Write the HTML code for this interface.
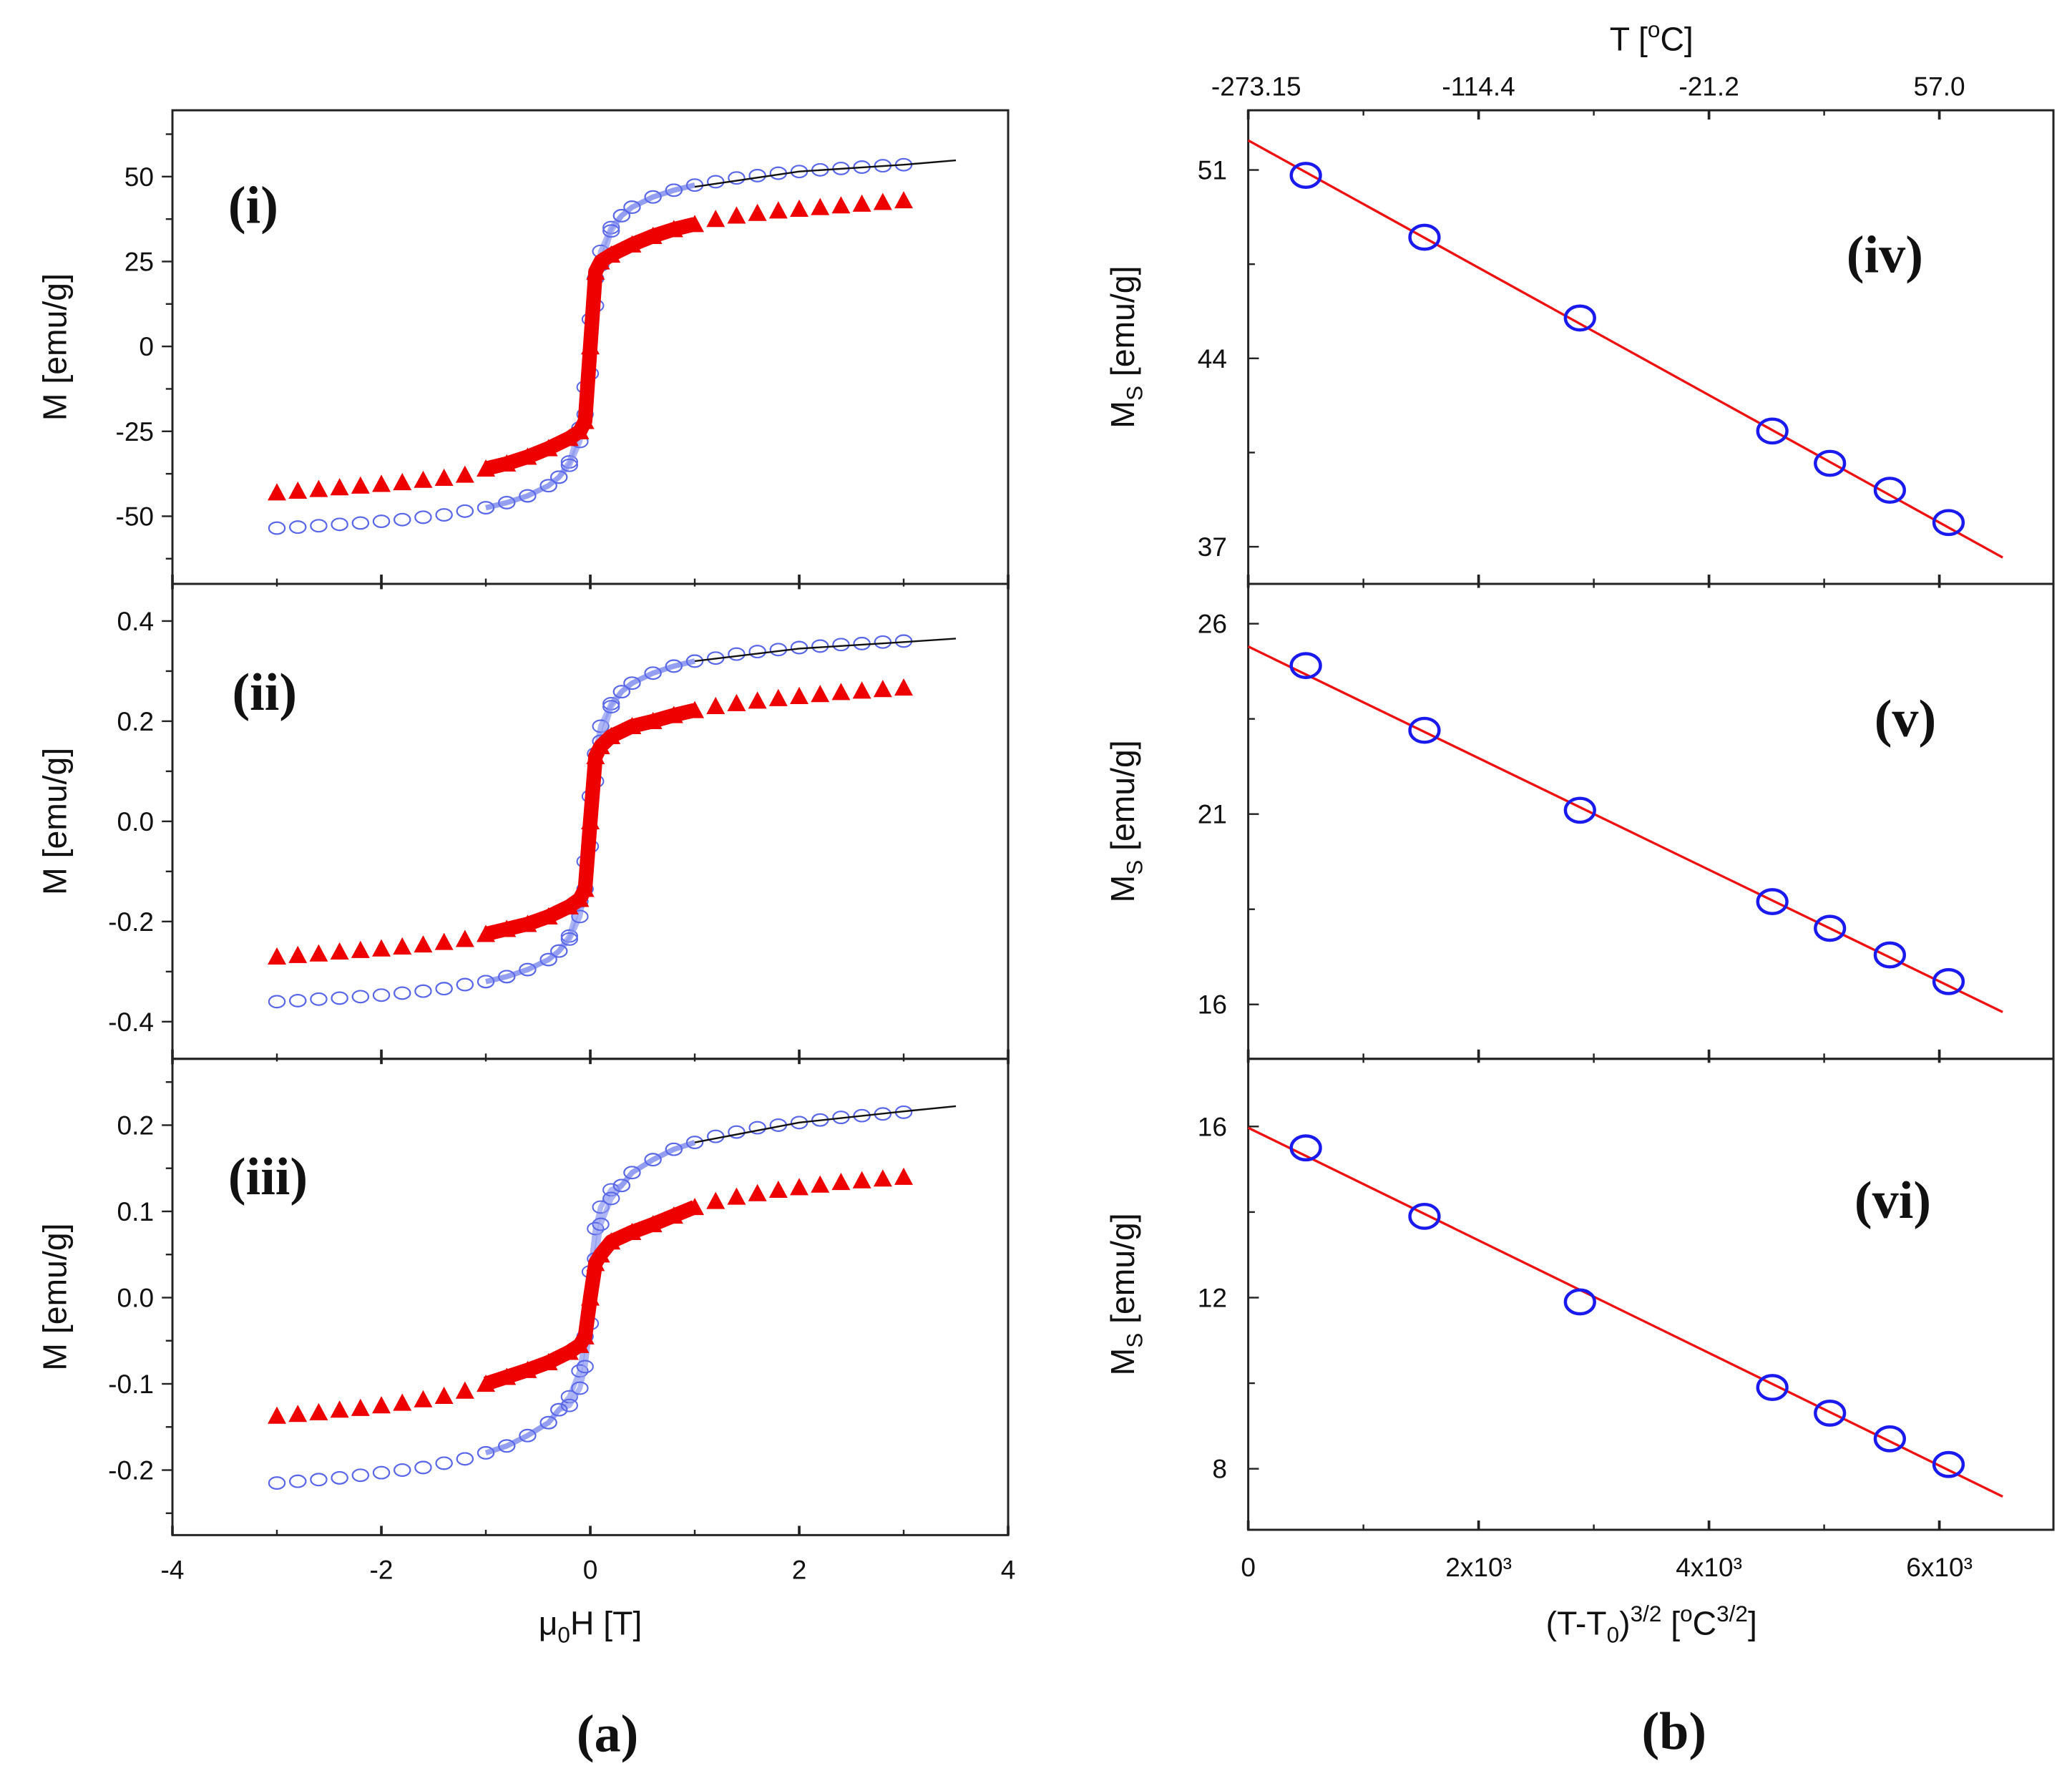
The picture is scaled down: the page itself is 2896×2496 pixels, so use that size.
<!DOCTYPE html>
<html><head><meta charset="utf-8"><style>
html,body{margin:0;padding:0;background:#fff}
svg{display:block}
text{font-family:"Liberation Sans",sans-serif;fill:#111}
.lab{font-family:"Liberation Serif",serif;font-weight:bold}
</style></head><body>
<svg id="fig" width="2896" height="2496" viewBox="0 0 1562 1346" xmlns="http://www.w3.org/2000/svg"></svg>
<script>
// ---------- data (a) ----------
const redH=[-3,-2.8,-2.6,-2.4,-2.2,-2,-1.8,-1.6,-1.4,-1.2,-1,-0.8,-0.6,-0.4,-0.2,-0.1,-0.05,0,0.05,0.1,0.2,0.4,0.6,0.8,1,1.2,1.4,1.6,1.8,2,2.2,2.4,2.6,2.8,3];
const redI=[-43,-42.5,-42,-41.5,-41,-40.5,-40,-39.3,-38.7,-37.8,-36,-34.5,-32.5,-30,-27,-25,-22,0,22,25,27,30,32.5,34.5,36,37.5,38.5,39.3,40,40.5,41,41.5,42,42.5,43];
const redII=[-0.27,-0.267,-0.264,-0.26,-0.257,-0.254,-0.25,-0.246,-0.241,-0.235,-0.225,-0.215,-0.205,-0.19,-0.17,-0.155,-0.135,0,0.13,0.15,0.17,0.19,0.2,0.212,0.222,0.23,0.236,0.241,0.246,0.25,0.254,0.258,0.261,0.264,0.267];
const redIII=[-0.137,-0.135,-0.133,-0.13,-0.128,-0.125,-0.122,-0.118,-0.114,-0.108,-0.1,-0.092,-0.084,-0.075,-0.063,-0.055,-0.045,0,0.04,0.05,0.065,0.076,0.085,0.095,0.105,0.112,0.117,0.121,0.125,0.128,0.131,0.134,0.136,0.138,0.14];
const blueH=[-3,-2.8,-2.6,-2.4,-2.2,-2,-1.8,-1.6,-1.4,-1.2,-1,-0.8,-0.6,-0.4,-0.3,-0.2,-0.1,-0.05,0,0.05,0.1,0.2,0.3,0.4,0.6,0.8,1,1.2,1.4,1.6,1.8,2,2.2,2.4,2.6,2.8,3];
const blueIdesc=[-53.5,-53.2,-52.8,-52.4,-52,-51.5,-51,-50.3,-49.6,-48.5,-47.5,-46,-44,-41,-38.5,-34,-24,-12,8,20,28,35,38.5,41,44,46,47.5,48.5,49.6,50.3,51,51.5,52,52.4,52.8,53.2,53.5];
const blueIasc=[-53.5,-53.2,-52.8,-52.4,-52,-51.5,-51,-50.3,-49.6,-48.5,-47.5,-46,-44,-41,-38.5,-35,-28,-20,-8,12,24,34,38.5,41,44,46,47.5,48.5,49.6,50.3,51,51.5,52,52.4,52.8,53.2,53.5];
const blueIIdesc=[-0.36,-0.358,-0.355,-0.353,-0.35,-0.347,-0.343,-0.339,-0.334,-0.326,-0.32,-0.31,-0.296,-0.276,-0.259,-0.229,-0.16,-0.08,0.05,0.135,0.19,0.235,0.259,0.276,0.296,0.31,0.32,0.326,0.334,0.339,0.343,0.347,0.35,0.353,0.355,0.358,0.36];
const blueIIasc=[-0.36,-0.358,-0.355,-0.353,-0.35,-0.347,-0.343,-0.339,-0.334,-0.326,-0.32,-0.31,-0.296,-0.276,-0.259,-0.235,-0.19,-0.135,-0.05,0.08,0.16,0.229,0.259,0.276,0.296,0.31,0.32,0.326,0.334,0.339,0.343,0.347,0.35,0.353,0.355,0.358,0.36];
const blueIIIdesc=[-0.215,-0.213,-0.211,-0.209,-0.206,-0.203,-0.2,-0.197,-0.192,-0.187,-0.18,-0.172,-0.16,-0.145,-0.13,-0.115,-0.085,-0.045,0.03,0.08,0.105,0.125,0.13,0.145,0.16,0.172,0.18,0.187,0.192,0.197,0.2,0.203,0.206,0.209,0.211,0.213,0.215];
const blueIIIasc=[-0.215,-0.213,-0.211,-0.209,-0.206,-0.203,-0.2,-0.197,-0.192,-0.187,-0.18,-0.172,-0.16,-0.145,-0.13,-0.125,-0.105,-0.08,-0.03,0.045,0.085,0.115,0.13,0.145,0.16,0.172,0.18,0.187,0.192,0.197,0.2,0.203,0.206,0.209,0.211,0.213,0.215];
const fitH=[1,2,3,3.5];
const fitI=[47,51.5,53.5,54.8];
const fitII=[0.32,0.345,0.358,0.365];
const fitIII=[0.18,0.203,0.216,0.222];
const xTicksA=[-4,-2,0,2,4];
const yTicksI=[-50,-25,0,25,50];
const yTicksII=[-0.4,-0.2,0.0,0.2,0.4];
const yTicksIII=[-0.2,-0.1,0.0,0.1,0.2];
// ---------- data (b) ----------
const xB=[500,1530,2880,4550,5050,5570,6080];
const msIV=[50.8,48.5,45.5,41.3,40.1,39.1,37.9];
const msV=[24.9,23.2,21.1,18.7,18.0,17.3,16.6];
const msVI=[15.5,13.9,11.9,9.9,9.3,8.7,8.1];
const fitXB=[0,6550];
const fitIV=[52.1,36.6];
const fitV=[25.4,15.8];
const fitVI=[15.97,7.35];
const xTicksB=[0,2000,4000,6000];
const xTickLabB=["0","2x10³","4x10³","6x10³"];
const topTickLab=["-273.15","-114.4","-21.2","57.0"];
const yTicksIV=[37,44,51];
const yTicksV=[16,21,26];
const yTicksVI=[8,12,16];

const NS="http://www.w3.org/2000/svg";
const svg=document.getElementById('fig');
function mk(tag,attrs,parent,txt){const e=document.createElementNS(NS,tag);for(const k in attrs)e.setAttribute(k,attrs[k]);if(txt!==undefined)e.textContent=txt;(parent||svg).appendChild(e);return e;}
function lin(d0,d1,r0,r1){return v=>r0+(v-d0)*(r1-r0)/(d1-d0);}

// ---------- panel (a) ----------
const AX0=130,AX1=760;
const xA=lin(-4,4,AX0,AX1);
const panelsA=[
 {top:83,bot:440,y:lin(0,50,261,133),ticks:yTicksI,red:redI,bd:blueIdesc,ba:blueIasc,fit:fitI,lab:"(i)",fmt:v=>String(v),lx:172,ly:168,minor:12.5},
 {top:440,bot:798,y:lin(0,0.4,619,468),ticks:yTicksII,red:redII,bd:blueIIdesc,ba:blueIIasc,fit:fitII,lab:"(ii)",fmt:v=>v.toFixed(1),lx:175,ly:535,minor:0.1},
 {top:798,bot:1157,y:lin(0,0.2,978,848),ticks:yTicksIII,red:redIII,bd:blueIIIdesc,ba:blueIIIasc,fit:fitIII,lab:"(iii)",fmt:v=>v.toFixed(1),lx:172,ly:900,minor:0.05}
];
panelsA.forEach((p,i)=>{
 const g=mk('g',{},svg);
 
 
 const fr=mk('rect',{x:AX0,y:p.top,width:AX1-AX0,height:p.bot-p.top,fill:'none',stroke:'#222','stroke-width':1.6},g);
 
 
 const tk=p.ticks;
 for(let v=tk[0]-p.minor;v<=tk[tk.length-1]+p.minor*1.01;v+=p.minor){
  const yy=p.y(v); if(yy<p.top+2||yy>p.bot-2)continue;
  const major=tk.some(t=>Math.abs(t-v)<p.minor/10);
  mk('line',{x1:AX0,x2:AX0-(major?8:5),y1:yy,y2:yy,stroke:'#222','stroke-width':1.3},g);
 }
 tk.forEach(v=>{const t=mk('text',{x:AX0-14,y:p.y(v)+7,'text-anchor':'end','font-size':20},g,p.fmt(v));
  
  });
 for(let v=-4;v<=4;v++){const major=v%2===0;
  mk('line',{x1:xA(v),x2:xA(v),y1:p.bot-(major?7:4),y2:p.bot+(i<2?(major?4:2):0),stroke:'#222','stroke-width':major?2:1.3},g);}
 const yt=mk('text',{transform:`translate(50,${(p.top+p.bot)/2}) rotate(-90)`,'text-anchor':'middle','font-size':25},g,'M [emu/g]');
 
 
 [p.bd,p.ba].forEach(arr=>{
  const inner=[];arr.forEach((m,k)=>{if(Math.abs(blueH[k])<=1)inner.push(xA(blueH[k])+','+p.y(m));});
  const pl=mk('polyline',{points:inner.join(' '),fill:'none',stroke:'#8a95f0','stroke-width':4,'stroke-opacity':0.7},g);
  
  
  arr.forEach((m,k)=>{const c=mk('ellipse',{cx:xA(blueH[k]),cy:p.y(m),rx:6,ry:4.5,fill:'none',stroke:'#5a67e8','stroke-width':1.1},g);
   
   });
 });
 const inner=[];p.red.forEach((m,k)=>{if(Math.abs(redH[k])<=1)inner.push(xA(redH[k])+','+p.y(m));});
 const rp=mk('polyline',{points:inner.join(' '),fill:'none',stroke:'#ee0000','stroke-width':11,'stroke-linejoin':'round'},g);
 
 
 p.red.forEach((m,k)=>{const x=xA(redH[k]),y=p.y(m);
  const t=mk('polygon',{points:`${x-7},${y+6} ${x+7},${y+6} ${x},${y-7}`,fill:'#ee0000'},g);
  
  });
 const fl=mk('polyline',{points:fitH.map((h,k)=>xA(h)+','+p.y(p.fit[k])).join(' '),fill:'none',stroke:'#111','stroke-width':1.3},g);
 
 
 const lb=mk('text',{x:p.lx,y:p.ly,'font-size':40,class:'lab'},g,p.lab);
 
 
});
xTicksA.forEach(v=>{const t=mk('text',{x:xA(v),y:1190,'text-anchor':'middle','font-size':20},svg,String(v));
 
 });
const xta=mk('text',{x:445,y:1232,'text-anchor':'middle','font-size':25},svg);


xta.innerHTML='μ<tspan font-size="17" dy="6">0</tspan><tspan dy="-6">H [T]</tspan>';
const la=mk('text',{x:458,y:1320,'text-anchor':'middle','font-size':40,class:'lab'},svg,'(a)');



// ---------- panel (b) ----------
const BX0=941,BX1=1548;
const xBs=lin(0,6000,BX0,1462);
const panelsB=[
 {top:83,bot:440,y:lin(37,51,412,128),ticks:yTicksIV,ms:msIV,fit:fitIV,lab:"(iv)",lx:1392,ly:205,minor:3.5},
 {top:440,bot:798,y:lin(16,26,757,470),ticks:yTicksV,ms:msV,fit:fitV,lab:"(v)",lx:1413,ly:555,minor:2.5},
 {top:798,bot:1153,y:lin(8,16,1107,849),ticks:yTicksVI,ms:msVI,fit:fitVI,lab:"(vi)",lx:1398,ly:918,minor:2}
];
panelsB.forEach((p,i)=>{
 const g=mk('g',{},svg);
 
 
 const fr=mk('rect',{x:BX0,y:p.top,width:BX1-BX0,height:p.bot-p.top,fill:'none',stroke:'#222','stroke-width':1.6},g);
 
 
 for(let v=p.ticks[0]-p.minor;v<=p.ticks[2]+p.minor*1.01;v+=p.minor){
  const yy=p.y(v); if(yy<p.top+2||yy>p.bot-2)continue;
  const major=p.ticks.some(t=>Math.abs(t-v)<0.01);
  mk('line',{x1:BX0,x2:BX0+(major?8:5),y1:yy,y2:yy,stroke:'#222','stroke-width':1.3},g);
 }
 p.ticks.forEach(v=>{const t=mk('text',{x:BX0-16,y:p.y(v)+7,'text-anchor':'end','font-size':20},g,String(v));
  
  });
 for(let v=0;v<=7000;v+=1000){const major=v%2000===0;const x=xBs(v);if(x>BX1-2)continue;
  mk('line',{x1:x,x2:x,y1:p.bot-(major?7:4),y2:p.bot+(i<2?3:0),stroke:'#222','stroke-width':major?2:1.3},g);
  if(i===0)mk('line',{x1:x,x2:x,y1:p.top,y2:p.top+(major?7:4),stroke:'#222','stroke-width':major?2:1.3},g);}
 const yt=mk('text',{transform:`translate(855,${(p.top+p.bot)/2}) rotate(-90)`,'text-anchor':'middle','font-size':25},g);
 
 
 yt.innerHTML='M<tspan font-size="17" dy="6">S</tspan><tspan dy="-6"> [emu/g]</tspan>';
 const fl=mk('line',{x1:xBs(fitXB[0]),y1:p.y(p.fit[0]),x2:xBs(fitXB[1]),y2:p.y(p.fit[1]),stroke:'#ee1111','stroke-width':1.8},g);
 
 
 p.ms.forEach((m,k)=>{const c=mk('ellipse',{cx:xBs(xB[k]),cy:p.y(m),rx:11,ry:9,fill:'none',stroke:'#1a1aee','stroke-width':2.4},g);
  
  });
 const lb=mk('text',{x:p.lx,y:p.ly,'font-size':40,class:'lab'},g,p.lab);
 
 
});
xTicksB.forEach((v,k)=>{
 const t=mk('text',{x:xBs(v),y:1188,'text-anchor':'middle','font-size':20},svg);
 
 
 t.textContent=xTickLabB[k];
 const tt=mk('text',{x:xBs(v)+(k===0?6:0),y:72,'text-anchor':'middle','font-size':20},svg,topTickLab[k]);
 
 
});
const xtb=mk('text',{x:1245,y:1232,'text-anchor':'middle','font-size':25},svg);


xtb.innerHTML='(T-T<tspan font-size="17" dy="6">0</tspan><tspan dy="-6">)</tspan><tspan font-size="17" dy="-10">3/2</tspan><tspan dy="10"> [</tspan><tspan font-size="17" dy="-10">o</tspan><tspan dy="10">C</tspan><tspan font-size="17" dy="-10">3/2</tspan><tspan dy="10">]</tspan>';
const ttb=mk('text',{x:1245,y:38,'text-anchor':'middle','font-size':25},svg);


ttb.innerHTML='T [<tspan font-size="17" dy="-10">o</tspan><tspan dy="10">C]</tspan>';
const lbb=mk('text',{x:1262,y:1318,'text-anchor':'middle','font-size':40,class:'lab'},svg,'(b)');


</script>
</body></html>
